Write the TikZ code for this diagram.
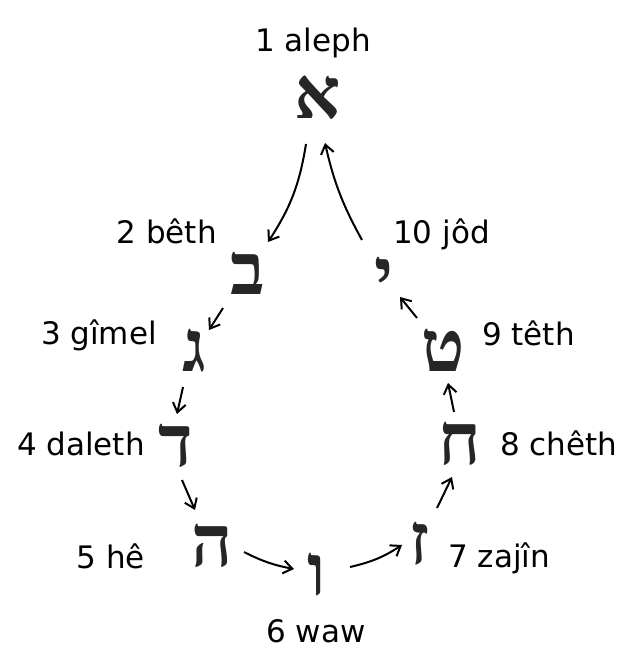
\documentclass[tikz,border=0pt]{standalone}
\usepackage{fontspec}
\setmainfont{DejaVu Sans}
\newfontfamily\hebfont[Script=Hebrew]{Liberation Serif}
\usetikzlibrary{arrows.meta}
\tikzset{
  heb/.style={inner sep=0pt, outer sep=0pt, text=black!85, font=\hebfont\bfseries\fontsize{72}{72}\selectfont},
  lab/.style={inner sep=0pt, font=\fontsize{31}{31}\selectfont},
  arr/.style={line width=2pt, -{Straight Barb[length=9pt,width=13pt,line width=2pt]}}
}
\begin{document}
\begin{tikzpicture}[x=1pt,y=-1pt]
\useasboundingbox (0,0) rectangle (634,671);
% letters
\node[heb] (aleph) at (318,98) {א};
\node[heb] (beth) at (248,273) {ב};
\node[heb] (gimel) at (194,351) {ג};
\node[heb] (daleth) at (176,446) {ד};
\node[heb] (he) at (212,546) {ה};
\node[heb] (waw) at (317,575) {ו};
\node[heb] (zajin) at (420,544) {ז};
\node[heb] (cheth) at (460,444) {ח};
\node[heb] (teth) at (443,350) {ט};
\node[heb] (jod) at (384,278) {י};
% labels
\node[lab, anchor=base] (l1) at (313,52) {1 aleph};
\node[lab, anchor=base east] (l2) at (217,243) {2 bêth};
\node[lab, anchor=base east] (l3) at (157,344) {3 gîmel};
\node[lab, anchor=base east] (l4) at (145,455) {4 daleth};
\node[lab, anchor=base east] (l5) at (145,568) {5 hê};
\node[lab, anchor=base] (l6) at (316,642) {6 waw};
\node[lab, anchor=base west] (l7) at (448,567) {7 zajîn};
\node[lab, anchor=base west] (l8) at (500,455) {8 chêth};
\node[lab, anchor=base west] (l9) at (482,345) {9 têth};
\node[lab, anchor=base west] (l10) at (393,243) {10 jôd};
% arrows
\draw[arr] ([shift={(-12,46)}]aleph.center) to[bend left=12] ([shift={(20,-31)}]beth.center);
\draw[arr] ([shift={(-25,35)}]beth.center) -- ([shift={(15,-21)}]gimel.center);
\draw[arr] ([shift={(-11,36)}]gimel.center) -- ([shift={(1,-32)}]daleth.center);
\draw[arr] ([shift={(6,34)}]daleth.center) -- ([shift={(-17,-36)}]he.center);
\draw[arr] ([shift={(32,6)}]he.center) to[bend right=8] ([shift={(-23,-6)}]waw.center);
\draw[arr] ([shift={(33,-8)}]waw.center) to[bend right=10] ([shift={(-18,1)}]zajin.center);
\draw[arr] ([shift={(17,-36)}]zajin.center) -- ([shift={(-8,33)}]cheth.center);
\draw[arr] ([shift={(-6,-32)}]cheth.center) -- ([shift={(5,33)}]teth.center);
\draw[arr] ([shift={(-26,-32)}]teth.center) -- ([shift={(16,19)}]jod.center);
\draw[arr] ([shift={(-22,-38)}]jod.center) to[bend left=8] ([shift={(7,45)}]aleph.center);
\end{tikzpicture}
\end{document}
